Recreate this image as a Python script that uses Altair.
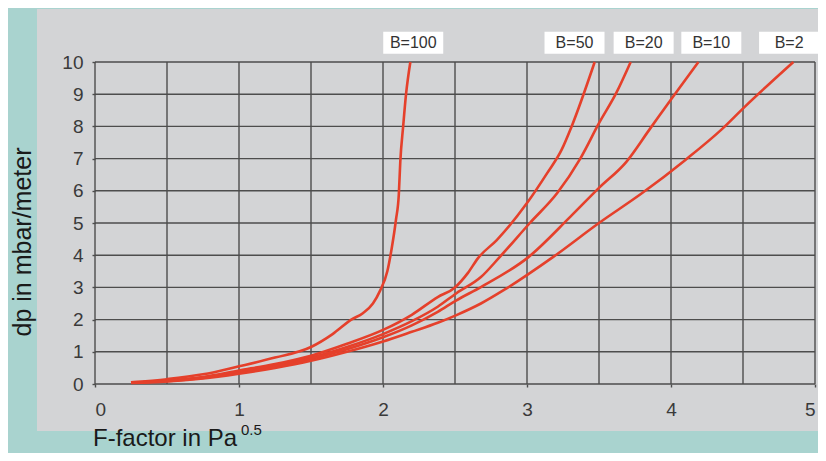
import altair as alt
import pandas as pd

# ---- data ----
b100_x = [0.25, 0.5, 0.75, 1.0, 1.25, 1.5, 1.65, 1.78, 1.86, 1.93, 1.98, 2.03, 2.06, 2.09, 2.11, 2.12, 2.14, 2.16, 2.19]
b100_y = [0.05, 0.15, 0.3, 0.55, 0.82, 1.15, 1.55, 2.0, 2.2, 2.5, 2.9, 3.5, 4.2, 5.1, 5.9, 6.9, 8.0, 9.0, 10.0]

b50_x = [0.25, 0.5, 0.75, 1.0, 1.25, 1.5, 1.75, 2.0, 2.2, 2.38, 2.5, 2.59, 2.66, 2.79, 3.0, 3.14, 3.24, 3.31, 3.47]
b50_y = [0.05, 0.1, 0.22, 0.42, 0.62, 0.88, 1.25, 1.68, 2.15, 2.7, 3.0, 3.45, 3.91, 4.47, 5.62, 6.55, 7.27, 8.0, 10.0]

b20_x = [0.25, 0.5, 0.75, 1.0, 1.25, 1.5, 1.75, 2.0, 2.2, 2.38, 2.51, 2.68, 2.81, 3.02, 3.21, 3.37, 3.5, 3.62, 3.72]
b20_y = [0.04, 0.1, 0.2, 0.38, 0.58, 0.82, 1.15, 1.55, 1.95, 2.4, 2.82, 3.32, 3.94, 5.0, 5.93, 7.0, 8.1, 9.04, 10.0]

b10_x = [0.25, 0.5, 0.75, 1.0, 1.25, 1.5, 1.75, 2.0, 2.2, 2.38, 2.51, 2.68, 3.01, 3.3, 3.5, 3.69, 3.85, 4.01, 4.19]
b10_y = [0.04, 0.09, 0.19, 0.35, 0.54, 0.78, 1.08, 1.45, 1.82, 2.24, 2.6, 3.01, 3.94, 5.19, 6.09, 6.9, 7.9, 8.9, 10.0]

b2_x = [0.25, 0.5, 0.75, 1.0, 1.25, 1.5, 1.75, 2.0, 2.2, 2.38, 2.51, 2.68, 2.84, 3.18, 3.5, 3.8, 4.1, 4.35, 4.51, 4.85]
b2_y = [0.03, 0.08, 0.17, 0.32, 0.5, 0.72, 1.0, 1.32, 1.62, 1.9, 2.14, 2.5, 2.92, 3.94, 5.0, 5.93, 6.96, 7.9, 8.6, 10.0]

label_text = ["B=100", "B=50", "B=20", "B=10", "B=2"]
label_x = [2.21, 3.33, 3.81, 4.28, 4.82]
label_y = [10.6, 10.6, 10.6, 10.6, 10.6]

x_grid = [0, 0.5, 1, 1.5, 2, 2.5, 3, 3.5, 4, 4.5, 5]
y_grid = [0, 1, 2, 3, 4, 5, 6, 7, 8, 9, 10]

# ---- build tables ----
rows = []
for name, xs, ys in [("B=100", b100_x, b100_y), ("B=50", b50_x, b50_y),
                     ("B=20", b20_x, b20_y), ("B=10", b10_x, b10_y),
                     ("B=2", b2_x, b2_y)]:
    for i, (xv, yv) in enumerate(zip(xs, ys)):
        rows.append({"series": name, "F": xv, "dp": yv, "i": i})
curves = pd.DataFrame(rows)
labels = pd.DataFrame({"text": label_text, "x": label_x, "y": label_y})
vgrid = pd.DataFrame({"x": x_grid})
hgrid = pd.DataFrame({"y": y_grid})
one = pd.DataFrame({"a": [0]})

W, H = 720, 322
FONT = "Liberation Sans"
RED = "#e5402b"
GRID = "#4d4d4d"

xscale = alt.Scale(domain=[0, 5], nice=False)
yscale = alt.Scale(domain=[0, 10], nice=False)

xaxis = alt.Axis(values=x_grid, grid=False, domain=False, tickSize=3,
                 tickColor=GRID, tickWidth=1.4, format="d",
                 labelExpr="datum.value % 1 === 0 ? datum.label : ''",
                 labelOverlap=False, labelFontSize=19, labelColor="#3a3a3a",
                 labelFont=FONT, labelPadding=13, title=None, zindex=1)
yaxis = alt.Axis(values=y_grid, grid=False, domain=False, tickSize=3,
                 tickColor=GRID, tickWidth=1.4, format="d",
                 labelOverlap=False, labelFontSize=19, labelColor="#3a3a3a",
                 labelFont=FONT, labelPadding=9, title=None, zindex=1)

panel = alt.Chart(one).mark_rect(color="#d3d4d6").encode(
    x=alt.value(-58), x2=alt.value(723), y=alt.value(-53), y2=alt.value(369)
)

vrules = alt.Chart(vgrid).mark_rule(color=GRID, strokeWidth=1.4).encode(
    x=alt.X("x:Q", scale=xscale, axis=xaxis),
    y=alt.datum(0, scale=yscale, axis=yaxis), y2=alt.datum(10)
)

hrules = alt.Chart(hgrid).mark_rule(color=GRID, strokeWidth=1.4).encode(
    y=alt.Y("y:Q", scale=yscale, axis=yaxis),
    x=alt.datum(0, scale=xscale, axis=xaxis), x2=alt.datum(5)
)

lines = alt.Chart(curves).mark_line(color=RED, strokeWidth=2.6, interpolate="monotone").encode(
    x=alt.X("F:Q", scale=xscale, axis=xaxis),
    y=alt.Y("dp:Q", scale=yscale, axis=yaxis),
    detail="series:N",
    order="i:Q",
)

boxes = alt.Chart(labels).mark_rect(color="white", width=60, height=22).encode(
    x=alt.X("x:Q", scale=xscale, axis=xaxis), y=alt.Y("y:Q", scale=yscale, axis=yaxis)
)
texts = alt.Chart(labels).mark_text(font=FONT, fontSize=16, color="#333333",
                                    align="center", baseline="middle").encode(
    x=alt.X("x:Q", scale=xscale, axis=xaxis), y=alt.Y("y:Q", scale=yscale, axis=yaxis),
    text="text:N"
)

ytitle = alt.Chart(one).mark_text(text="dp in mbar/meter", font=FONT, fontSize=25,
                                  color="#1a1a1a", angle=270, align="center",
                                  baseline="middle").encode(
    x=alt.value(-72), y=alt.value(180)
)
xtitle = alt.Chart(one).mark_text(text="F-factor in Pa", font=FONT, fontSize=24,
                                  color="#1a1a1a", align="left",
                                  baseline="alphabetic").encode(
    x=alt.value(-2), y=alt.value(384)
)
xsup = alt.Chart(one).mark_text(text="0.5", font=FONT, fontSize=15,
                                color="#1a1a1a", align="left",
                                baseline="alphabetic").encode(
    x=alt.value(146), y=alt.value(373)
)

chart = alt.layer(panel, vrules, hrules, lines, boxes, texts, ytitle, xtitle, xsup).properties(
    width=W, height=H,
    autosize=alt.AutoSizeParams(type="none"),
    padding={"left": 87, "top": 54, "right": 3, "bottom": 69},
    background="#a9d3cf",
).configure_view(stroke=None)

chart.save("out.html", embed_options={"renderer": "svg", "actions": False})
